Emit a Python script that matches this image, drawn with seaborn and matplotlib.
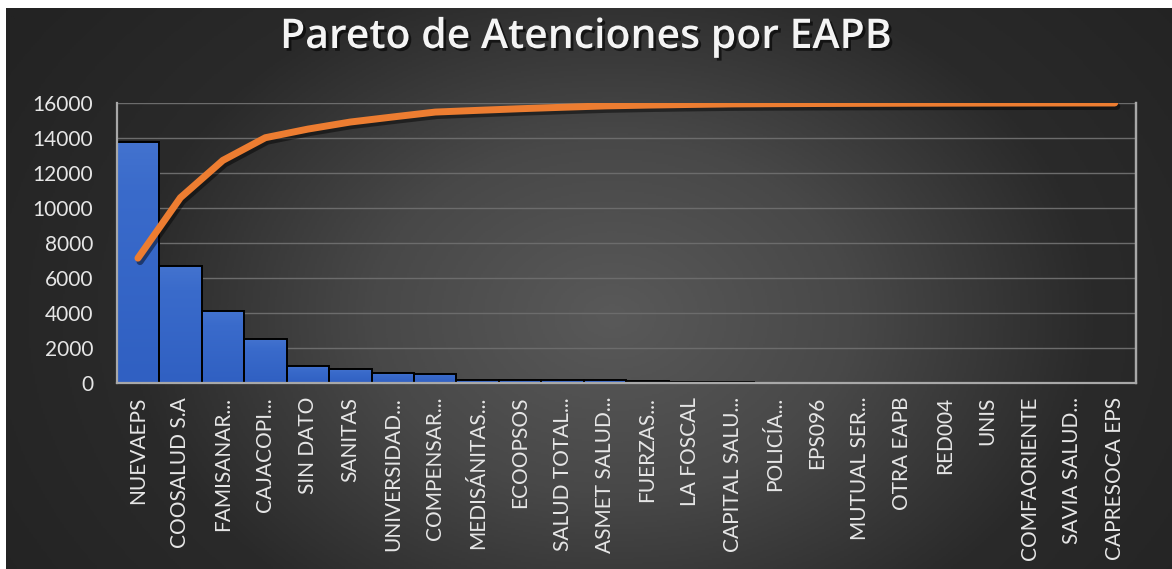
import numpy as np
import pandas as pd
import matplotlib
matplotlib.use("Agg")
import matplotlib.pyplot as plt
import matplotlib.patheffects as pe
from matplotlib.colors import LinearSegmentedColormap
import seaborn as sns

categories = ["NUEVAEPS", "COOSALUD S.A", "FAMISANAR...", "CAJACOPI...", "SIN DATO",
              "SANITAS", "UNIVERSIDAD...", "COMPENSAR...", "MEDISÁNITAS...", "ECOOPSOS",
              "SALUD TOTAL...", "ASMET SALUD...", "FUERZAS...", "LA FOSCAL",
              "CAPITAL SALU...", "POLICÍA...", "EPS096", "MUTUAL SER...", "OTRA EAPB",
              "RED004", "UNIS", "COMFAORIENTE", "SAVIA SALUD...", "CAPRESOCA EPS"]
atenciones = [13780, 6680, 4120, 2500, 950, 780, 560, 540, 190, 180, 160, 150, 90, 70,
              60, 25, 20, 15, 12, 10, 8, 6, 4, 2]
y_ticks = [0, 2000, 4000, 6000, 8000, 10000, 12000, 14000, 16000]
title = "Pareto de Atenciones por EAPB"

df = pd.DataFrame({"cat": categories, "val": atenciones})
df["cum_pct"] = df["val"].cumsum() / df["val"].sum()

sns.set_theme(style="dark")
plt.rcParams["font.family"] = ["Lato", "DejaVu Sans"]

W, H = 1172, 569
fig = plt.figure(figsize=(W / 100, H / 100), dpi=100)
fig.patch.set_facecolor("white")

# background gradient panel
bg = fig.add_axes([6 / W, 0, (W - 6) / W, (H - 8) / H], zorder=-10)
yy, xx = np.mgrid[0:1:300j, 0:1:600j]
d = np.sqrt(((xx - 0.52) / 0.62) ** 2 + ((yy - 0.55) / 0.95) ** 2)
d = np.clip(d, 0, 1)
cmap_bg = LinearSegmentedColormap.from_list("bg", ["#595959", "#484848", "#2a2a2a", "#232323"])
bg.imshow(d, cmap=cmap_bg, aspect="auto", extent=[0, 1, 0, 1], vmin=0, vmax=1)
bg.set_axis_off()

ax = fig.add_axes([116.7 / W, 1 - 383 / H, (1136 - 116.7) / W, (383 - 103) / H])
ax.patch.set_alpha(0)

sns.barplot(data=df, x="cat", y="val", color="#3566C6", saturation=1, width=1,
            edgecolor="black", linewidth=1.4, ax=ax, zorder=3)

# gradient fill on bars
grad_cmap = LinearSegmentedColormap.from_list("bar", ["#3060C2", "#3A6BCB", "#5F8ADA"])
for p in ax.patches:
    x0, y0 = p.get_x(), p.get_y()
    w, h = p.get_width(), p.get_height()
    if h <= 0:
        continue
    g = np.linspace(0, 1, 100).reshape(-1, 1)
    im = ax.imshow(g, cmap=grad_cmap, aspect="auto", origin="lower",
                   extent=[x0, x0 + w, y0, y0 + h], zorder=2.9, vmin=0, vmax=1.6)
    im.set_clip_path(p)
    p.set_facecolor("none")

ax.set_xlim(-0.5, len(categories) - 0.5)
ax.set_ylim(0, 16000)
ax.set_yticks(y_ticks)
ax.set_yticklabels([str(t) for t in y_ticks])
ax.grid(axis="y", color="#6c6c6c", linewidth=1.0, zorder=0)
ax.grid(axis="x", visible=False)
ax.set_xlabel("")
ax.set_ylabel("")
ax.tick_params(axis="both", colors="#E6E6E6", labelsize=15, length=0)
ax.tick_params(axis="y", pad=17)
ax.tick_params(axis="x", labelrotation=90, pad=10)
for lab in ax.get_xticklabels():
    lab.set_verticalalignment("top")
ax.spines["top"].set_visible(False)
for s in ["left", "bottom", "right"]:
    ax.spines[s].set_visible(True)
    ax.spines[s].set_color("#A8A8A8")
    ax.spines[s].set_linewidth(1.6)
    ax.spines[s].set_zorder(5)

ax2 = ax.twinx()
sns.lineplot(x=np.arange(len(categories)), y=df["cum_pct"].values, ax=ax2,
             color="#ED7D31", linewidth=5, zorder=6,
             path_effects=[pe.SimpleLineShadow(offset=(1.5, -2.5), shadow_color="black", alpha=0.45),
                           pe.Normal()])
ax2.set_ylim(0, 1)
ax2.set_yticks([])
ax2.set_ylabel("")
ax2.grid(False)
for s in ax2.spines.values():
    s.set_visible(False)
ax2.spines["right"].set_visible(True)
ax2.spines["right"].set_color("#A8A8A8")
ax2.spines["right"].set_linewidth(1.6)
ax2.get_lines()[0].set_solid_capstyle("round")

fig.text(0.5, 1 - 37 / H, title, ha="center", va="center", color="#F4F4F4",
         fontsize=29.5, fontweight="semibold", family=["Open Sans", "DejaVu Sans"],
         path_effects=[pe.withSimplePatchShadow(offset=(2, -2), shadow_rgbFace="black", alpha=0.6)])

fig.savefig("out.png", dpi=100)
